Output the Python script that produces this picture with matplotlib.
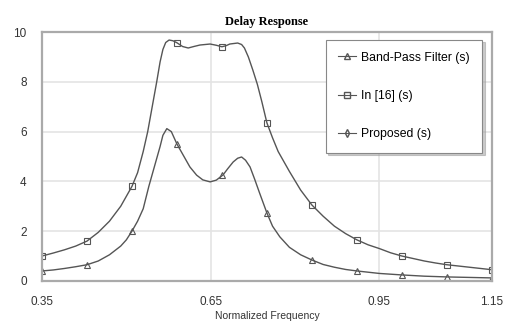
import numpy as np
import matplotlib.pyplot as plt
from matplotlib.lines import Line2D

# marker positions (every 0.08)
mk_freq = [0.35, 0.43, 0.51, 0.59, 0.67, 0.75, 0.83, 0.91, 0.99, 1.07, 1.15]
bpf_mk = [0.40, 0.65, 2.0, 5.5, 4.26, 2.73, 0.84, 0.40, 0.24, 0.16, 0.12]
ref_mk = [1.0, 1.6, 3.8, 9.57, 9.41, 6.35, 3.05, 1.65, 1.0, 0.65, 0.45]

# traced curves
bpf_f = [0.35, 0.37, 0.39, 0.41, 0.43, 0.45, 0.47, 0.49, 0.50, 0.51, 0.52,
         0.53, 0.54, 0.55, 0.56, 0.565, 0.572, 0.58, 0.59, 0.60, 0.613, 0.625,
         0.636, 0.649, 0.66, 0.672, 0.68, 0.69, 0.698, 0.705, 0.712, 0.72,
         0.728, 0.737, 0.75, 0.76, 0.773, 0.79, 0.81, 0.83, 0.85, 0.87, 0.89,
         0.91, 0.95, 0.99, 1.03, 1.07, 1.11, 1.15]
bpf_v = [0.40, 0.44, 0.50, 0.57, 0.65, 0.80, 1.05, 1.40, 1.65, 2.0, 2.4,
         2.9, 3.8, 4.6, 5.4, 5.85, 6.12, 6.0, 5.5, 5.1, 4.58, 4.25,
         4.06, 3.98, 4.05, 4.26, 4.5, 4.78, 4.93, 4.98, 4.85, 4.58,
         4.1, 3.53, 2.73, 2.2, 1.77, 1.35, 1.05, 0.84, 0.66, 0.55, 0.46,
         0.40, 0.30, 0.24, 0.19, 0.16, 0.14, 0.12]

ref_f = [0.35, 0.37, 0.39, 0.41, 0.43, 0.45, 0.47, 0.49, 0.51, 0.52, 0.53,
         0.538, 0.546, 0.554, 0.56, 0.565, 0.57, 0.576, 0.583, 0.59, 0.60,
         0.61, 0.62, 0.631, 0.649, 0.66, 0.67, 0.677, 0.684, 0.698, 0.705,
         0.71, 0.717, 0.725, 0.733, 0.741, 0.75, 0.76, 0.77, 0.79, 0.81,
         0.83, 0.85, 0.87, 0.89, 0.91, 0.93, 0.95, 0.97, 0.99, 1.01, 1.03,
         1.05, 1.07, 1.09, 1.11, 1.13, 1.15]
ref_v = [1.0, 1.12, 1.25, 1.4, 1.6, 1.95, 2.4, 3.0, 3.8, 4.35, 5.2,
         6.0, 7.0, 8.0, 8.8, 9.3, 9.58, 9.68, 9.65, 9.57, 9.42,
         9.36, 9.42, 9.48, 9.52, 9.47, 9.41, 9.45, 9.52, 9.56, 9.5,
         9.36, 9.0, 8.47, 7.9, 7.2, 6.35, 5.75, 5.2, 4.4, 3.65,
         3.05, 2.6, 2.2, 1.9, 1.65, 1.45, 1.3, 1.13, 1.0, 0.9, 0.8,
         0.72, 0.65, 0.6, 0.55, 0.5, 0.45]

xticks = [0.35, 0.65, 0.95, 1.15]
yticks = [0, 2, 4, 6, 8, 10]

lc = '#555555'
fig = plt.figure(figsize=(5.06, 3.24), dpi=100)
ax = fig.add_axes([0.083, 0.133, 0.889, 0.768])

ax.plot(bpf_f, bpf_v, color=lc, lw=1.0, solid_joinstyle='round')
ax.plot(mk_freq, bpf_mk, ls='none', marker='^', ms=5, mfc='none', mec=lc, mew=0.8)
ax.plot(ref_f, ref_v, color=lc, lw=1.0, solid_joinstyle='round')
ax.plot(mk_freq, ref_mk, ls='none', marker='s', ms=5, mfc='none', mec=lc, mew=0.8)

ax.set_xlim(0.35, 1.15)
ax.set_ylim(0, 10)
ax.set_xticks(xticks)
ax.set_xticklabels(['0.35', '0.65', '0.95', '1.15'])
ax.set_yticks(yticks)
ax.grid(True, color='#e4e4e4', lw=1.2)
ax.set_axisbelow(True)
ax.tick_params(axis='x', length=0, labelsize=8.5, pad=11, colors='#333333')
ax.tick_params(axis='y', length=0, labelsize=8.5, pad=11, colors='#333333')
for s in ax.spines.values():
    s.set_color('#aaaaaa')
    s.set_linewidth(1.6)
for lab in ax.get_xticklabels() + ax.get_yticklabels():
    lab.set_family('Liberation Sans')

ax.set_xlabel('Normalized Frequency', family='Liberation Sans', fontsize=7.5, labelpad=2, color='#333333')
ax.set_title('Delay Response', family='Liberation Serif', fontweight='bold', fontsize=9, pad=5)

handles = [
    Line2D([], [], color=lc, lw=0.8, marker='^', ms=4, mfc='none', mec=lc),
    Line2D([], [], color=lc, lw=0.8, marker='s', ms=4, mfc='none', mec=lc),
    Line2D([], [], color=lc, lw=0.8, marker='d', ms=4, mfc='none', mec=lc),
]
labels = ['Band-Pass Filter (s)', 'In [16] (s)', 'Proposed (s)']
leg = ax.legend(handles, labels, loc='upper right', bbox_to_anchor=(0.978, 0.97),
                prop={'family': 'Liberation Sans', 'size': 8.8}, labelspacing=2.15,
                handlelength=1.5, handletextpad=0.4, borderpad=1.0, borderaxespad=0,
                fancybox=False, shadow={'color': '#999999'}, framealpha=1,
                edgecolor='#888888')
leg.get_frame().set_linewidth(0.8)

fig.savefig('out.png', dpi=100)
